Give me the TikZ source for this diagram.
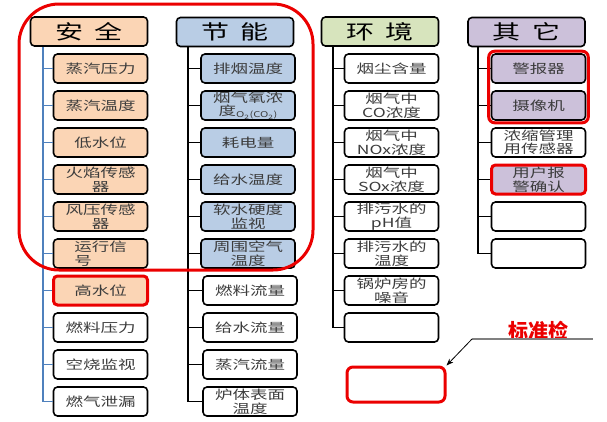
\documentclass[tikz,border=0pt]{standalone}
\usepackage{fontspec}
\newfontfamily\cjk[FakeStretch=1.4]{Noto Sans CJK SC}
\newfontfamily\cjkplain{Noto Sans CJK SC}
\usetikzlibrary{fit,arrows.meta}
\definecolor{mypeach}{RGB}{251,213,181}
\definecolor{myblue}{RGB}{185,205,229}
\definecolor{mygreen}{RGB}{215,228,189}
\definecolor{mypurple}{RGB}{204,193,218}
\definecolor{myred}{RGB}{235,0,0}
\definecolor{mytrunk}{RGB}{79,129,189}
\definecolor{mytext}{RGB}{60,60,60}
\tikzset{
  hdr/.style={draw,line width=1.6pt,rounded corners=4pt,minimum width=117pt,
    minimum height=29pt,inner sep=0pt,font=\cjk\fontsize{20}{20}\selectfont},
  leaf/.style={draw,line width=1.6pt,rounded corners=4pt,minimum width=94pt,
    minimum height=29pt,inner sep=0pt,align=center,text=mytext,
    font=\cjk\fontsize{12.5}{13.5}\selectfont},
  alert/.style={draw=myred,line width=3pt},
  trunk/.style={line width=1.6pt},
  redmark/.style={draw=myred,line width=3pt,rounded corners=6pt}
}

\begin{document}
\begin{tikzpicture}[x=1pt,y=-1pt]
  \useasboundingbox (0,0) rectangle (607,421);
  % safety
  \node[hdr,fill=mypeach] (ha) at (89,31.5) {安\hspace{12pt}全};
  \node[leaf,fill=mypeach] (a1) at (100.5,68.5)  {蒸汽压力};
  \node[leaf,fill=mypeach] (a2) at (100.5,105.5) {蒸汽温度};
  \node[leaf,fill=mypeach] (a3) at (100.5,142.5) {低水位};
  \node[leaf,fill=mypeach] (a4) at (100.5,179.5) {火焰传感\\器};
  \node[leaf,fill=mypeach] (a5) at (100.5,216.5) {风压传感\\器};
  \node[leaf,fill=mypeach,align=left] (a6) at (100.5,253.5) {运行信\\号};
  \node[leaf,alert,fill=mypeach] (a7) at (100.5,290.5) {高水位};
  \node[leaf] (a8)  at (100.5,327.5) {燃料压力};
  \node[leaf] (a9)  at (100.5,364.5) {空烧监视};
  \node[leaf] (a10) at (100.5,401.5) {燃气泄漏};
  \draw[trunk,mytrunk] ([xshift=-10pt]a1.west |- ha.south) |- (a10.west);
  \foreach \i in {1,...,9}
    \draw[trunk,mytrunk] (a\i.west) -- ++(-10pt,0);
  % energy
  \node[hdr,fill=myblue] (hb) at (235,32) {节\hspace{12pt}能};
  \node[leaf,fill=myblue] (b1) at (248,68.5)  {排烟温度};
  \node[leaf,fill=myblue] (b2) at (248,105.5) {烟气氧浓\\度{\fontsize{8}{8}\selectfont\raisebox{-2pt}{O\textsubscript{2}(CO\textsubscript{2})}}};
  \node[leaf,fill=myblue] (b3) at (248,142.5) {耗电量};
  \node[leaf,fill=myblue] (b4) at (248,179.5) {给水温度};
  \node[leaf,fill=myblue] (b5) at (248,216.5) {软水硬度\\监视};
  \node[leaf,fill=myblue] (b6) at (248,253.5) {周围空气\\温度};
  \node[leaf] (b7)  at (250,290.5) {燃料流量};
  \node[leaf] (b8)  at (250,327.5) {给水流量};
  \node[leaf] (b9)  at (250,364.5) {蒸汽流量};
  \node[leaf] (b10) at (250,401.5) {炉体表面\\温度};
  \draw[trunk] ([xshift=-12pt]b1.west |- hb.south) |- (b10.west);
  \foreach \i in {1,...,9}
    \draw[trunk] (b\i.west) -| ([xshift=-12pt]b1.west);
  % environment
  \node[hdr,fill=mygreen] (hc) at (380,31.5) {环\hspace{12pt}境};
  \node[leaf] (c1) at (391.5,68.5)  {烟尘含量};
  \node[leaf] (c2) at (391.5,105.5) {烟气中\\CO浓度};
  \node[leaf] (c3) at (391.5,142.5) {烟气中\\NOx浓度};
  \node[leaf] (c4) at (391.5,179.5) {烟气中\\SOx浓度};
  \node[leaf] (c5) at (391.5,216.5) {排污水的\\pH值};
  \node[leaf] (c6) at (391.5,253.5) {排污水的\\温度};
  \node[leaf] (c7) at (391.5,290.5) {锅炉房的\\噪音};
  \node[leaf] (c8) at (391.5,327.5) {};
  \draw[trunk] ([xshift=-11pt]c1.west |- hc.south) |- (c8.west);
  \foreach \i in {1,...,7}
    \draw[trunk] (c\i.west) -- ++(-11pt,0);
  % others
  \node[hdr,fill=mypurple] (hd) at (526.5,32) {其\hspace{12pt}它};
  \node[leaf,fill=mypurple] (d1) at (538.5,68.5)  {警报器};
  \node[leaf,fill=mypurple] (d2) at (538.5,105.5) {摄像机};
  \node[leaf] (d3) at (538.5,142.5) {浓缩管理\\用传感器};
  \node[leaf,alert,fill=mypurple] (d4) at (538.5,179.5) {用户报\\警确认};
  \node[leaf] (d5) at (538.5,216.5) {};
  \node[leaf] (d6) at (538.5,253.5) {};
  \draw[trunk] ([xshift=-13pt]d1.west |- hd.south) |- (d6.west);
  \foreach \i in {1,...,5}
    \draw[trunk] (d\i.west) -- ++(-13pt,0);
  \node[redmark,fit=(d1)(d2),inner sep=2pt] (dpair) {};
  % red marks
  \draw[myred,line width=3pt,rounded corners=40pt] (19,4) rectangle (313,270);
  \node[redmark,minimum width=98pt,minimum height=35pt] (blank) at (396,384.5) {};
  \node[font=\cjkplain\fontsize{20}{20}\selectfont\bfseries,text=myred] (std) at (538.5,331) {标准检};
  \coordinate (bend) at (472,339);
  \coordinate (tail) at (593,339);
  \draw[gray,line width=1.2pt] (bend) -- (tail);
  \draw[-{Stealth[length=7pt]},line width=0.8pt] (bend) -- (blank.north east);
\end{tikzpicture}
\end{document}
